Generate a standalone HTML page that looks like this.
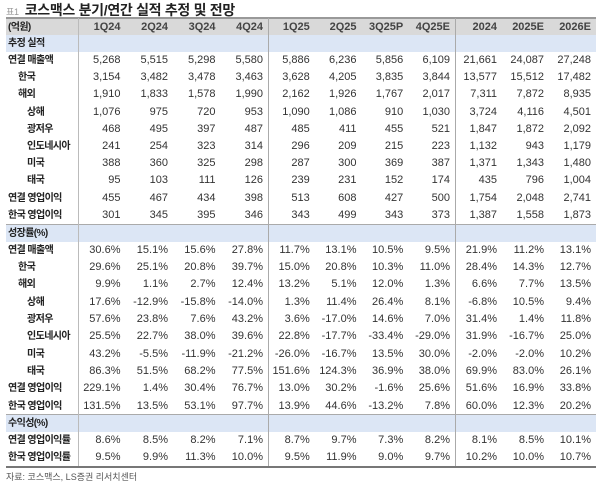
<!DOCTYPE html>
<html><head><meta charset="utf-8"><style>
body{margin:0;width:600px;height:484px;background:#fff;position:relative;overflow:hidden;font-family:"Liberation Sans","Noto Sans CJK KR",sans-serif;color:#333;}
.t{position:absolute;left:6px;top:0px;font-size:14px;font-weight:bold;color:#222;letter-spacing:-0.3px;}
.t span{font-size:9px;color:#999;font-weight:normal;margin-right:6px;}
.r{position:absolute;left:6px;width:590px;height:17.3px;display:flex;font-size:11px;line-height:17.3px;}
.r div{box-sizing:border-box;text-align:right;padding-right:5px;white-space:nowrap;}
.r div:first-child{width:72px;text-align:left;padding-left:2px;color:#222;font-weight:bold;font-size:10px;letter-spacing:-0.6px;overflow:hidden;}
.q{width:47.5px}.p{width:46.75px}.y{width:47px}
.h{background:#d9d9d9;border-top:2px solid #999;font-weight:bold;}
.h div{color:#444}
.s{background:#dce6f5;}
.i1 div:first-child{padding-left:12px}
.i2 div:first-child{padding-left:21px}
.v{position:absolute;top:18px;height:448px;width:1px;background:#aaa;}
.src{position:absolute;left:6px;top:470px;font-size:9px;color:#555;}
</style></head><body>
<div class="t"><span>표1</span>코스맥스 분기/연간 실적 추정 및 전망</div>

<div class="r h" style="top:17px;height:18px"><div>(억원)</div><div class="q">1Q24</div><div class="q">2Q24</div><div class="q">3Q24</div><div class="q">4Q24</div><div class="p">1Q25</div><div class="p">2Q25</div><div class="p">3Q25P</div><div class="p">4Q25E</div><div class="y">2024</div><div class="y">2025E</div><div class="y">2026E</div></div>
<div class="r s" style="top:35px"><div>추정 실적</div></div>
<div class="r" style="top:52px"><div>연결 매출액</div><div class="q">5,268</div><div class="q">5,515</div><div class="q">5,298</div><div class="q">5,580</div><div class="p">5,886</div><div class="p">6,236</div><div class="p">5,856</div><div class="p">6,109</div><div class="y">21,661</div><div class="y">24,087</div><div class="y">27,248</div></div>
<div class="r i1" style="top:69.2px"><div>한국</div><div class="q">3,154</div><div class="q">3,482</div><div class="q">3,478</div><div class="q">3,463</div><div class="p">3,628</div><div class="p">4,205</div><div class="p">3,835</div><div class="p">3,844</div><div class="y">13,577</div><div class="y">15,512</div><div class="y">17,482</div></div>
<div class="r i1" style="top:86.4px"><div>해외</div><div class="q">1,910</div><div class="q">1,833</div><div class="q">1,578</div><div class="q">1,990</div><div class="p">2,162</div><div class="p">1,926</div><div class="p">1,767</div><div class="p">2,017</div><div class="y">7,311</div><div class="y">7,872</div><div class="y">8,935</div></div>
<div class="r i2" style="top:103.6px"><div>상해</div><div class="q">1,076</div><div class="q">975</div><div class="q">720</div><div class="q">953</div><div class="p">1,090</div><div class="p">1,086</div><div class="p">910</div><div class="p">1,030</div><div class="y">3,724</div><div class="y">4,116</div><div class="y">4,501</div></div>
<div class="r i2" style="top:120.8px"><div>광저우</div><div class="q">468</div><div class="q">495</div><div class="q">397</div><div class="q">487</div><div class="p">485</div><div class="p">411</div><div class="p">455</div><div class="p">521</div><div class="y">1,847</div><div class="y">1,872</div><div class="y">2,092</div></div>
<div class="r i2" style="top:138px"><div>인도네시아</div><div class="q">241</div><div class="q">254</div><div class="q">323</div><div class="q">314</div><div class="p">296</div><div class="p">209</div><div class="p">215</div><div class="p">223</div><div class="y">1,132</div><div class="y">943</div><div class="y">1,179</div></div>
<div class="r i2" style="top:155.2px"><div>미국</div><div class="q">388</div><div class="q">360</div><div class="q">325</div><div class="q">298</div><div class="p">287</div><div class="p">300</div><div class="p">369</div><div class="p">387</div><div class="y">1,371</div><div class="y">1,343</div><div class="y">1,480</div></div>
<div class="r i2" style="top:172.4px"><div>태국</div><div class="q">95</div><div class="q">103</div><div class="q">111</div><div class="q">126</div><div class="p">239</div><div class="p">231</div><div class="p">152</div><div class="p">174</div><div class="y">435</div><div class="y">796</div><div class="y">1,004</div></div>
<div class="r" style="top:189.6px"><div>연결 영업이익</div><div class="q">455</div><div class="q">467</div><div class="q">434</div><div class="q">398</div><div class="p">513</div><div class="p">608</div><div class="p">427</div><div class="p">500</div><div class="y">1,754</div><div class="y">2,048</div><div class="y">2,741</div></div>
<div class="r" style="top:206.8px"><div>한국 영업이익</div><div class="q">301</div><div class="q">345</div><div class="q">395</div><div class="q">346</div><div class="p">343</div><div class="p">499</div><div class="p">343</div><div class="p">373</div><div class="y">1,387</div><div class="y">1,558</div><div class="y">1,873</div></div>
<div style="position:absolute;left:6px;top:223.5px;width:590px;height:1px;background:#aaa"></div>
<div class="r s" style="top:224.5px"><div>성장률(%)</div></div>
<div class="r" style="top:241.8px"><div>연결 매출액</div><div class="q">30.6%</div><div class="q">15.1%</div><div class="q">15.6%</div><div class="q">27.8%</div><div class="p">11.7%</div><div class="p">13.1%</div><div class="p">10.5%</div><div class="p">9.5%</div><div class="y">21.9%</div><div class="y">11.2%</div><div class="y">13.1%</div></div>
<div class="r i1" style="top:259.1px"><div>한국</div><div class="q">29.6%</div><div class="q">25.1%</div><div class="q">20.8%</div><div class="q">39.7%</div><div class="p">15.0%</div><div class="p">20.8%</div><div class="p">10.3%</div><div class="p">11.0%</div><div class="y">28.4%</div><div class="y">14.3%</div><div class="y">12.7%</div></div>
<div class="r i1" style="top:276.4px"><div>해외</div><div class="q">9.9%</div><div class="q">1.1%</div><div class="q">2.7%</div><div class="q">12.4%</div><div class="p">13.2%</div><div class="p">5.1%</div><div class="p">12.0%</div><div class="p">1.3%</div><div class="y">6.6%</div><div class="y">7.7%</div><div class="y">13.5%</div></div>
<div class="r i2" style="top:293.7px"><div>상해</div><div class="q">17.6%</div><div class="q">-12.9%</div><div class="q">-15.8%</div><div class="q">-14.0%</div><div class="p">1.3%</div><div class="p">11.4%</div><div class="p">26.4%</div><div class="p">8.1%</div><div class="y">-6.8%</div><div class="y">10.5%</div><div class="y">9.4%</div></div>
<div class="r i2" style="top:311px"><div>광저우</div><div class="q">57.6%</div><div class="q">23.8%</div><div class="q">7.6%</div><div class="q">43.2%</div><div class="p">3.6%</div><div class="p">-17.0%</div><div class="p">14.6%</div><div class="p">7.0%</div><div class="y">31.4%</div><div class="y">1.4%</div><div class="y">11.8%</div></div>
<div class="r i2" style="top:328.3px"><div>인도네시아</div><div class="q">25.5%</div><div class="q">22.7%</div><div class="q">38.0%</div><div class="q">39.6%</div><div class="p">22.8%</div><div class="p">-17.7%</div><div class="p">-33.4%</div><div class="p">-29.0%</div><div class="y">31.9%</div><div class="y">-16.7%</div><div class="y">25.0%</div></div>
<div class="r i2" style="top:345.6px"><div>미국</div><div class="q">43.2%</div><div class="q">-5.5%</div><div class="q">-11.9%</div><div class="q">-21.2%</div><div class="p">-26.0%</div><div class="p">-16.7%</div><div class="p">13.5%</div><div class="p">30.0%</div><div class="y">-2.0%</div><div class="y">-2.0%</div><div class="y">10.2%</div></div>
<div class="r i2" style="top:362.9px"><div>태국</div><div class="q">86.3%</div><div class="q">51.5%</div><div class="q">68.2%</div><div class="q">77.5%</div><div class="p">151.6%</div><div class="p">124.3%</div><div class="p">36.9%</div><div class="p">38.0%</div><div class="y">69.9%</div><div class="y">83.0%</div><div class="y">26.1%</div></div>
<div class="r" style="top:380.2px"><div>연결 영업이익</div><div class="q">229.1%</div><div class="q">1.4%</div><div class="q">30.4%</div><div class="q">76.7%</div><div class="p">13.0%</div><div class="p">30.2%</div><div class="p">-1.6%</div><div class="p">25.6%</div><div class="y">51.6%</div><div class="y">16.9%</div><div class="y">33.8%</div></div>
<div class="r" style="top:397.5px"><div>한국 영업이익</div><div class="q">131.5%</div><div class="q">13.5%</div><div class="q">53.1%</div><div class="q">97.7%</div><div class="p">13.9%</div><div class="p">44.6%</div><div class="p">-13.2%</div><div class="p">7.8%</div><div class="y">60.0%</div><div class="y">12.3%</div><div class="y">20.2%</div></div>
<div style="position:absolute;left:6px;top:414px;width:590px;height:1px;background:#aaa"></div>
<div class="r s" style="top:415px"><div>수익성(%)</div></div>
<div class="r" style="top:432.3px"><div>연결 영업이익률</div><div class="q">8.6%</div><div class="q">8.5%</div><div class="q">8.2%</div><div class="q">7.1%</div><div class="p">8.7%</div><div class="p">9.7%</div><div class="p">7.3%</div><div class="p">8.2%</div><div class="y">8.1%</div><div class="y">8.5%</div><div class="y">10.1%</div></div>
<div class="r" style="top:449.2px"><div>한국 영업이익률</div><div class="q">9.5%</div><div class="q">9.9%</div><div class="q">11.3%</div><div class="q">10.0%</div><div class="p">9.5%</div><div class="p">11.9%</div><div class="p">9.0%</div><div class="p">9.7%</div><div class="y">10.2%</div><div class="y">10.0%</div><div class="y">10.7%</div></div>
<div style="position:absolute;left:6px;top:466px;width:590px;height:2px;background:#777"></div>
<div class="v" style="left:78px;background:#bbb"></div>
<div class="v" style="left:268px"></div>
<div class="v" style="left:455px"></div>
<div class="src">자료: 코스맥스, LS증권 리서치센터</div>
</body></html>
